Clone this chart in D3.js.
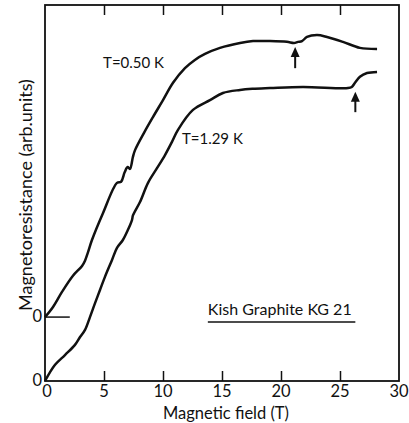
<!DOCTYPE html>
<html>
<head>
<meta charset="utf-8">
<script src="https://cdn.jsdelivr.net/npm/d3@7"></script>
<style>
  body { margin: 0; background: #fff; }
  text { font-family: Lato, "DejaVu Sans", sans-serif; fill: #111; }
</style>
</head>
<body>
<script>
const width = 409, height = 423;
const margin = {top: 5, right: 10, bottom: 42, left: 45};

// T = 0.50 K trace (field in tesla, MR in arb. units above its own zero)
const field050 = [0, 0.68, 1.44, 2.37, 3.14, 3.39, 3.64, 3.98, 4.92, 6.1, 6.45, 6.75, 7.0, 7.2, 7.45,
  7.63, 8.39, 9.15, 10.0, 10.85, 11.86, 12.7, 13.56, 14.83, 16.53, 17.63, 19.07, 20.5, 21.1, 21.44,
  21.78, 22.2, 23.05, 23.9, 25.25, 26.69, 28.14];
const mr050 = [0, 2.7, 6.7, 11.0, 13.6, 15.0, 17.2, 20.5, 27.7, 35.7, 36.0, 38.5, 39.9, 39.4, 42.6,
  44.4, 49.0, 53.2, 57.7, 62.3, 66.2, 68.4, 70.0, 71.6, 72.9, 73.4, 73.4, 73.2, 72.9, 73.2,
  73.4, 74.5, 75.0, 74.5, 73.2, 71.6, 71.3];

// T = 1.29 K trace
const field129 = [0, 0.85, 1.69, 2.54, 2.97, 3.39, 3.81, 4.24, 4.66, 5.08, 5.68, 6.1, 6.6, 7.03, 7.37,
  7.46, 8.05, 8.73, 9.49, 10.17, 10.76, 11.27, 12.54, 13.98, 15.08, 16.53, 17.6, 19.07, 21.86,
  25.68, 26.0, 26.27, 26.69, 27.29, 28.14];
const mr129 = [0, 4.3, 6.9, 9.6, 11.7, 13.6, 17.0, 20.7, 24.2, 27.7, 32.2, 35.4, 37.5, 40.2, 42.8,
  44.1, 47.6, 52.7, 56.6, 60.1, 63.6, 66.8, 72.1, 74.7, 76.6, 77.4, 77.7, 77.9, 78.2,
  77.9, 78.2, 79.3, 80.9, 81.9, 82.2];

// vertical offsets of each trace's zero
const offset050 = 17, offset129 = 0;

// arrows marking the anomaly: [field, tail, tip]
const arrows = [[21.2, 83.2, 88.8], [26.3, 71.5, 76.9]];

const xTicks = [0, 5, 10, 15, 20, 25, 30];

const svg = d3.select("body").append("svg")
  .attr("width", width)
  .attr("height", height);

const x = d3.scaleLinear().domain([0, 30]).range([margin.left, width - margin.right]);
const y = d3.scaleLinear().domain([0, 100]).range([height - margin.bottom, margin.top]);

// frame
svg.append("rect")
  .attr("x", x(0)).attr("y", y(100))
  .attr("width", x(30) - x(0)).attr("height", y(0) - y(100))
  .attr("fill", "none").attr("stroke", "#111").attr("stroke-width", 1.8);

// inner ticks, bottom and top
const inner = xTicks.slice(1, -1);
svg.append("g")
  .attr("transform", `translate(0,${y(0)})`)
  .call(d3.axisTop(x).tickValues(inner).tickSize(10).tickFormat(""))
  .call(g => g.select(".domain").remove());
svg.append("g")
  .attr("transform", `translate(0,${y(100)})`)
  .call(d3.axisBottom(x).tickValues(inner).tickSize(10).tickFormat(""))
  .call(g => g.select(".domain").remove());
svg.selectAll(".tick line").attr("stroke", "#111").attr("stroke-width", 1.5);

// tick labels
svg.append("g").selectAll("text")
  .data(xTicks)
  .enter().append("text")
    .attr("x", d => x(d) + (d === 0 ? 2 : 0))
    .attr("y", y(0) + 16)
    .attr("text-anchor", "middle")
    .attr("font-size", 16.5)
    .text(d => d);

// zero labels for the two traces
svg.append("g").selectAll("text")
  .data([offset129, offset050])
  .enter().append("text")
    .attr("x", x(0) - 3)
    .attr("y", d => y(d) + 5)
    .attr("text-anchor", "end")
    .attr("font-size", 16.5)
    .text("0");

// short zero marker for the upper trace
svg.append("line")
  .attr("x1", x(0)).attr("x2", x(2.1))
  .attr("y1", y(offset050)).attr("y2", y(offset050))
  .attr("stroke", "#111").attr("stroke-width", 1.5);

const line = d3.line()
  .x(d => x(d[0]))
  .y(d => y(d[1]))
  .curve(d3.curveCatmullRom.alpha(0.5));

const traces = [
  field050.map((f, i) => [f, mr050[i] + offset050]),
  field129.map((f, i) => [f, mr129[i] + offset129])
];

svg.selectAll(".trace")
  .data(traces)
  .enter().append("path")
    .attr("class", "trace")
    .attr("d", line)
    .attr("fill", "none")
    .attr("stroke", "#111")
    .attr("stroke-width", 2.5)
    .attr("stroke-linejoin", "round");

// arrows
const arrow = svg.selectAll(".arrow")
  .data(arrows)
  .enter().append("g")
    .attr("class", "arrow");
arrow.append("line")
  .attr("x1", d => x(d[0])).attr("x2", d => x(d[0]))
  .attr("y1", d => y(d[1])).attr("y2", d => y(d[2]) + 6)
  .attr("stroke", "#111").attr("stroke-width", 2);
arrow.append("path")
  .attr("d", d => {
    const px = x(d[0]), py = y(d[2]);
    return `M${px},${py}L${px - 4.5},${py + 10}L${px + 4.5},${py + 10}Z`;
  })
  .attr("fill", "#111");

// curve labels
svg.append("text")
  .attr("x", x(4.92)).attr("y", y(83.2))
  .attr("font-size", 15)
  .text("T=0.50 K");
svg.append("text")
  .attr("x", x(11.6)).attr("y", y(63))
  .attr("font-size", 15)
  .text("T=1.29 K");

svg.append("text")
  .attr("x", x(13.8)).attr("y", y(17.6))
  .attr("font-size", 16)
  .text("Kish Graphite KG 21");
svg.append("line")
  .attr("x1", x(13.8)).attr("x2", x(26.3))
  .attr("y1", y(15.7)).attr("y2", y(15.7))
  .attr("stroke", "#111").attr("stroke-width", 1.5);

// axis titles
svg.append("text")
  .attr("x", (x(0) + x(30)) / 2 + 4)
  .attr("y", height - 4)
  .attr("text-anchor", "middle")
  .attr("font-size", 16.5)
  .text("Magnetic field (T)");

svg.append("text")
  .attr("transform", `translate(32,${y(50) + 2}) rotate(-90)`)
  .attr("text-anchor", "middle")
  .attr("font-size", 18)
  .text("Magnetoresistance (arb.units)");
</script>
</body>
</html>
